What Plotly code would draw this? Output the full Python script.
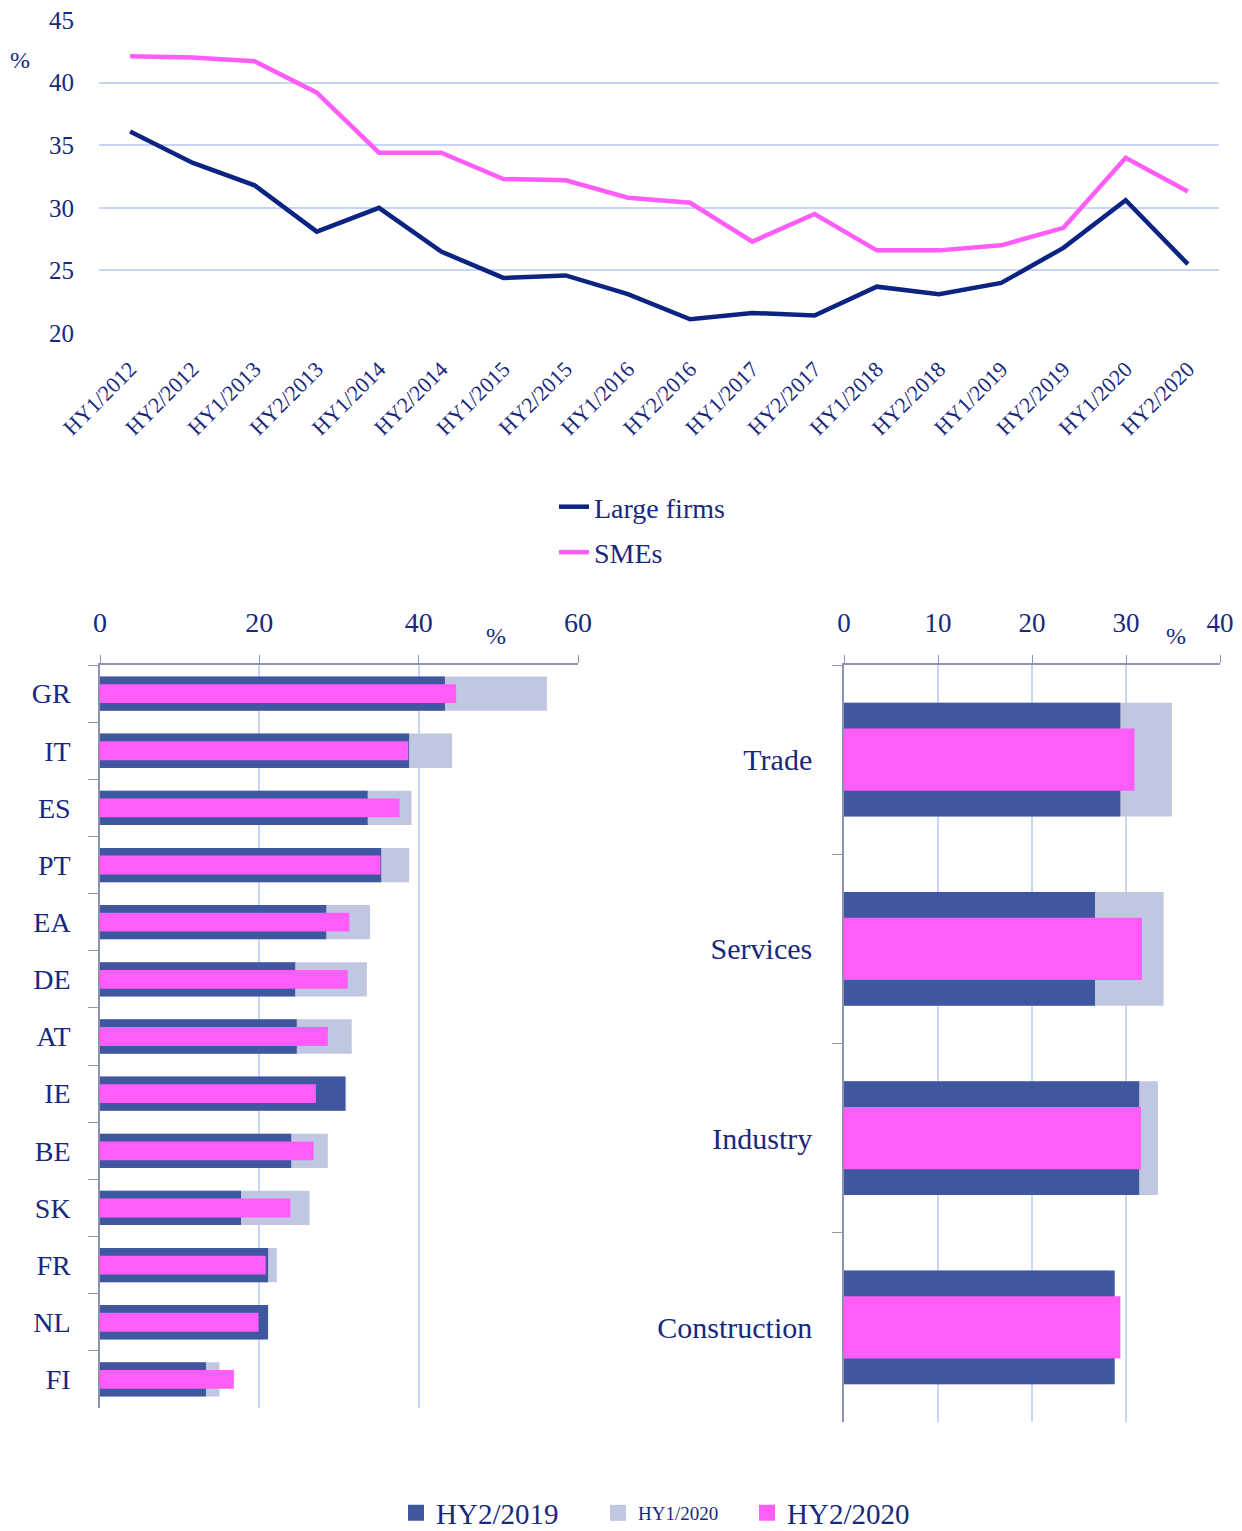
import plotly.graph_objects as go

# ---------------- data ----------------
periods = ["HY1/2012", "HY2/2012", "HY1/2013", "HY2/2013", "HY1/2014", "HY2/2014",
           "HY1/2015", "HY2/2015", "HY1/2016", "HY2/2016", "HY1/2017", "HY2/2017",
           "HY1/2018", "HY2/2018", "HY1/2019", "HY2/2019", "HY1/2020", "HY2/2020"]
large_firms = [36.1, 33.6, 31.8, 28.1, 30.0, 26.5, 24.4, 24.6, 23.1, 21.1, 21.6, 21.4,
               23.7, 23.1, 24.0, 26.8, 30.6, 25.5]
smes = [42.1, 42.0, 41.7, 39.2, 34.4, 34.4, 32.3, 32.2, 30.8, 30.4, 27.3, 29.5,
        26.6, 26.6, 27.0, 28.4, 34.0, 31.3]

countries = ["GR", "IT", "ES", "PT", "EA", "DE", "AT", "IE", "BE", "SK", "FR", "NL", "FI"]
c_hy2_2019 = [43.3, 38.8, 33.6, 35.3, 28.4, 24.5, 24.7, 30.8, 24.0, 17.7, 21.1, 21.1, 13.3]
c_hy1_2020 = [56.1, 44.2, 39.1, 38.8, 33.9, 33.5, 31.6, 30.9, 28.6, 26.3, 22.2, 20.5, 15.0]
c_hy2_2020 = [44.7, 38.7, 37.6, 35.2, 31.3, 31.1, 28.6, 27.1, 26.8, 23.9, 20.8, 19.9, 16.8]

sectors = ["Trade", "Services", "Industry", "Construction"]
s_hy2_2019 = [29.4, 26.7, 31.4, 28.8]
s_hy1_2020 = [34.9, 34.0, 33.4, 28.0]
s_hy2_2020 = [30.9, 31.7, 31.6, 29.4]

# ---------------- styles ----------------
FONT = "Liberation Serif"
TXT = "#17297d"
NAVY = "#0b2381"
PINK = "#ff5cf8"
DARK = "#3f579f"
LIGHT = "#c0c7e0"
GRID = "#c9d4f9"
AXL = "#8e93b3"
W, H = 1242, 1531

def px(x):
    return x / W

def py(y):
    return 1 - y / H

fig = go.Figure()

# ---- top line chart ----
fig.add_trace(go.Scatter(x=periods, y=large_firms, mode="lines", name="Large firms",
                         line=dict(color=NAVY, width=4.5), xaxis="x", yaxis="y",
                         legend="legend", legendgroup="lf"))
fig.add_trace(go.Scatter(x=periods, y=smes, mode="lines", name="SMEs",
                         line=dict(color=PINK, width=4.5), xaxis="x", yaxis="y",
                         legend="legend", legendgroup="sme"))

# ---- bottom-left country bars ----
fig.add_trace(go.Bar(y=countries, x=c_hy1_2020, orientation="h", width=0.6,
                     marker=dict(color=LIGHT, line=dict(width=0)), xaxis="x2", yaxis="y2",
                     showlegend=False, name="HY1/2020"))
fig.add_trace(go.Bar(y=countries, x=c_hy2_2019, orientation="h", width=0.6,
                     marker=dict(color=DARK, line=dict(width=0)), xaxis="x2", yaxis="y2",
                     showlegend=False, name="HY2/2019"))
fig.add_trace(go.Bar(y=countries, x=c_hy2_2020, orientation="h", width=0.33,
                     marker=dict(color=PINK, line=dict(width=0)), xaxis="x2", yaxis="y2",
                     showlegend=False, name="HY2/2020"))

# ---- bottom-right sector bars ----
fig.add_trace(go.Bar(y=sectors, x=s_hy1_2020, orientation="h", width=0.6,
                     marker=dict(color=LIGHT, line=dict(width=0)), xaxis="x3", yaxis="y3",
                     showlegend=False, name="HY1/2020"))
fig.add_trace(go.Bar(y=sectors, x=s_hy2_2019, orientation="h", width=0.6,
                     marker=dict(color=DARK, line=dict(width=0)), xaxis="x3", yaxis="y3",
                     showlegend=False, name="HY2/2019"))
fig.add_trace(go.Bar(y=sectors, x=s_hy2_2020, orientation="h", width=0.33,
                     marker=dict(color=PINK, line=dict(width=0)), xaxis="x3", yaxis="y3",
                     showlegend=False, name="HY2/2020"))

# ---- legend entries for the bar charts ----
for name, col, leg in [("HY2/2019", DARK, "legend2"), ("HY1/2020", LIGHT, "legend3"),
                       ("HY2/2020", PINK, "legend4")]:
    fig.add_trace(go.Scatter(x=[None], y=[None], mode="markers", name=name,
                             marker=dict(symbol="square", size=20, color=col),
                             xaxis="x2", yaxis="y2", legend=leg, showlegend=True))

tickfont = dict(family=FONT, size=25, color=TXT)

fig.update_layout(
    width=W, height=H,
    margin=dict(l=0, r=0, t=0, b=0, autoexpand=False),
    paper_bgcolor="white", plot_bgcolor="white",
    barmode="overlay",
    font=dict(family=FONT, color=TXT),
    xaxis=dict(domain=[px(99), px(1219)], anchor="y", type="category",
               range=[-0.5, len(periods) - 0.5],
               showgrid=False, zeroline=False, showline=False, ticks="",
               tickangle=-45, automargin=False, ticklabelstandoff=18,
               tickfont=dict(family=FONT, size=22, color=TXT)),
    yaxis=dict(domain=[py(333), py(20)], anchor="x", range=[20, 45], dtick=5,
               showgrid=True, gridcolor=GRID, gridwidth=2, zeroline=False,
               showline=False, ticks="", ticklabelstandoff=24, automargin=False,
               tickfont=tickfont),
    xaxis2=dict(domain=[px(100), px(578)], anchor="y2", side="top", range=[0, 60],
                dtick=20, showgrid=True, gridcolor=GRID, gridwidth=1.5, zeroline=False,
                showline=True, linecolor=AXL, linewidth=1.5, ticks="outside",
                ticklen=8, tickcolor=AXL, ticklabelstandoff=12, automargin=False,
                tickfont=dict(family=FONT, size=28, color=TXT)),
    yaxis2=dict(domain=[py(1408), py(665)], anchor="x2", type="category",
                autorange="reversed", showgrid=False, zeroline=False,
                showline=True, linecolor=AXL, linewidth=1.5, ticks="outside",
                tickson="boundaries", ticklen=10, tickcolor=AXL, ticklabelstandoff=22,
                automargin=False, tickfont=dict(family=FONT, size=28, color=TXT)),
    xaxis3=dict(domain=[px(844), px(1220)], anchor="y3", side="top", range=[0, 40],
                dtick=10, showgrid=True, gridcolor=GRID, gridwidth=1.5, zeroline=False,
                showline=True, linecolor=AXL, linewidth=1.5, ticks="outside",
                ticklen=8, tickcolor=AXL, ticklabelstandoff=12, automargin=False,
                tickfont=dict(family=FONT, size=27, color=TXT)),
    yaxis3=dict(domain=[py(1422), py(665)], anchor="x3", type="category",
                autorange="reversed", showgrid=False, zeroline=False,
                showline=True, linecolor=AXL, linewidth=1.5, ticks="outside",
                tickson="boundaries", ticklen=10, tickcolor=AXL, ticklabelstandoff=24,
                automargin=False, tickfont=dict(family=FONT, size=30, color=TXT)),
    legend=dict(x=px(554), y=py(482), xanchor="left", yanchor="top",
                orientation="v", font=dict(family=FONT, size=28, color=TXT),
                bgcolor="rgba(0,0,0,0)", traceorder="grouped", tracegroupgap=6,
                itemwidth=30),
    legend2=dict(x=px(396), y=py(1513), xanchor="left", yanchor="middle",
                 font=dict(family=FONT, size=29, color=TXT), bgcolor="rgba(0,0,0,0)"),
    legend3=dict(x=px(598), y=py(1513), xanchor="left", yanchor="middle",
                 font=dict(family=FONT, size=19, color=TXT), bgcolor="rgba(0,0,0,0)"),
    legend4=dict(x=px(747), y=py(1513), xanchor="left", yanchor="middle",
                 font=dict(family=FONT, size=29, color=TXT), bgcolor="rgba(0,0,0,0)"),
    annotations=[
        dict(text="%", x=px(20), y=py(60), xref="paper", yref="paper",
             xanchor="center", yanchor="middle", showarrow=False,
             font=dict(family=FONT, size=24, color=TXT)),
        dict(text="%", x=px(496), y=py(636), xref="paper", yref="paper",
             xanchor="center", yanchor="middle", showarrow=False,
             font=dict(family=FONT, size=24, color=TXT)),
        dict(text="%", x=px(1176), y=py(636), xref="paper", yref="paper",
             xanchor="center", yanchor="middle", showarrow=False,
             font=dict(family=FONT, size=24, color=TXT)),
    ],
)

fig.write_html("out.html", config={"displayModeBar": False},
               post_script="document.body.style.margin='0px';document.body.style.padding='0px';")
